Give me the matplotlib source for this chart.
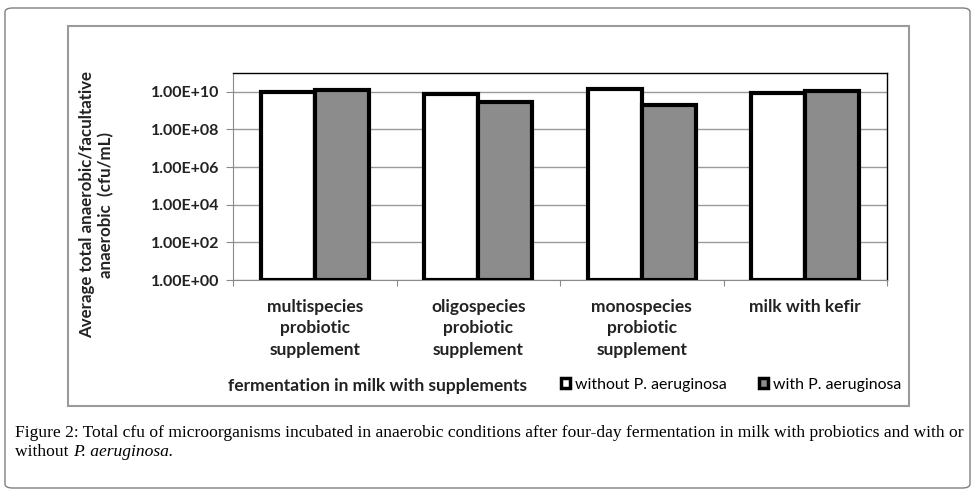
import numpy as np
import matplotlib.pyplot as plt
from matplotlib.patches import Rectangle, FancyBboxPatch, Patch

#%% Datos
categorias = ['multispecies\nprobiotic\nsupplement',
              'oligospecies\nprobiotic\nsupplement',
              'monospecies\nprobiotic\nsupplement',
              'milk with kefir']
sin_pa = [1.0e10, 7.6e9, 1.4e10, 9.0e9]    # without P. aeruginosa
con_pa = [1.2e10, 2.75e9, 2.0e9, 1.1e10]   # with P. aeruginosa
yticks = [1e0, 1e2, 1e4, 1e6, 1e8, 1e10]
ytick_labels = ['1.00E+00', '1.00E+02', '1.00E+04', '1.00E+06',
                '1.00E+08', '1.00E+10']
series = ['without P. aeruginosa', 'with P. aeruginosa']

FUENTE = ['Lato', 'DejaVu Sans']
W, H = 976, 496

fig = plt.figure(figsize=(W / 100, H / 100), dpi=100)

# caja exterior redondeada
fig.patches.append(FancyBboxPatch((5 / W, 8 / H), 965 / W, 480 / H,
                                  boxstyle='round,pad=0,rounding_size=0.008',
                                  transform=fig.transFigure, fill=False,
                                  edgecolor='#7f7f7f', lw=1.0))
# marco del grafico
fig.patches.append(Rectangle((68 / W, 1 - 406 / H), (909 - 68) / W,
                             (406 - 26) / H, transform=fig.transFigure,
                             fill=False, edgecolor='#9a9a9a', lw=1.5))

ax = fig.add_axes([233 / W, 1 - 280 / H, (887 - 233) / W, (280 - 73) / H])
x = np.arange(len(categorias))
ancho = 0.33
ax.bar(x - ancho / 2, sin_pa, ancho, bottom=1, color='white',
       edgecolor='black', lw=3, zorder=3)
ax.bar(x + ancho / 2, con_pa, ancho, bottom=1, color='#8c8c8c',
       edgecolor='black', lw=3, zorder=3)

ax.set_yscale('log')
ax.set_ylim(1, 1e11)
ax.set_xlim(-0.5, len(categorias) - 0.5)
ax.set_yticks(yticks)
ax.set_yticklabels(ytick_labels, fontfamily=FUENTE, fontweight='bold',
                   fontsize=11.5, color='#222222')
ax.yaxis.set_minor_locator(plt.NullLocator())
ax.grid(axis='y', color='#9a9a9a', lw=1, zorder=0)
ax.tick_params(axis='y', length=5, width=0.8, color='#8a8a8a', pad=5)

ax.set_xticks(np.arange(len(categorias) + 1) - 0.5)
ax.set_xticklabels([])
ax.tick_params(axis='x', length=4, width=0.8, color='#8a8a8a')
for i, c in enumerate(categorias):
    ax.text(i, -0.09, c, transform=ax.get_xaxis_transform(), ha='center',
            va='top', fontfamily=FUENTE, fontweight='bold', fontsize=12.5,
            linespacing=1.45, color='#222222')

for lado in ['top', 'right']:
    ax.spines[lado].set_color('black')
    ax.spines[lado].set_linewidth(1)
ax.spines['left'].set_color('#8a8a8a')
ax.spines['bottom'].set_color('#8a8a8a')

fig.text(97 / W, 1 - 205 / H,
         'Average total anaerobic/facultative\nanaerobic  (cfu/mL)',
         rotation=90, ha='center', va='center', fontfamily=FUENTE,
         fontweight='bold', fontsize=12.2, linespacing=1.2, color='#222222')
fig.text(377 / W, 1 - 386 / H, 'fermentation in milk with supplements',
         ha='center', va='center', fontfamily=FUENTE, fontweight='bold',
         fontsize=12.5, color='#222222')

manijas = [Patch(facecolor='white', edgecolor='black', lw=2.5),
           Patch(facecolor='#8c8c8c', edgecolor='black', lw=2.5)]
fig.legend(manijas, series, loc='center', bbox_to_anchor=(731 / W, 1 - 385 / H),
           ncol=2, frameon=False, handlelength=0.6, handleheight=0.6,
           handletextpad=0.3, columnspacing=2.0,
           prop={'family': FUENTE, 'size': 11.4})

# pie de figura
pie = 'Liberation Serif'
fig.text(15 / W, 1 - 433 / H,
         'Figure 2: Total cfu of microorganisms incubated in anaerobic '
         'conditions after four-day fermentation in milk with probiotics '
         'and with or', ha='left', va='center', family=pie, fontsize=12.6)
t = fig.text(15 / W, 1 - 452 / H, 'without ', ha='left', va='center',
             family=pie, fontsize=12.6)
r = fig.canvas.get_renderer()
x1 = t.get_window_extent(r).x1
fig.text(x1 / W, 1 - 452 / H, 'P. aeruginosa.', ha='left', va='center',
         family=pie, style='italic', fontsize=12.6)

fig.savefig('out.png', dpi=100)
